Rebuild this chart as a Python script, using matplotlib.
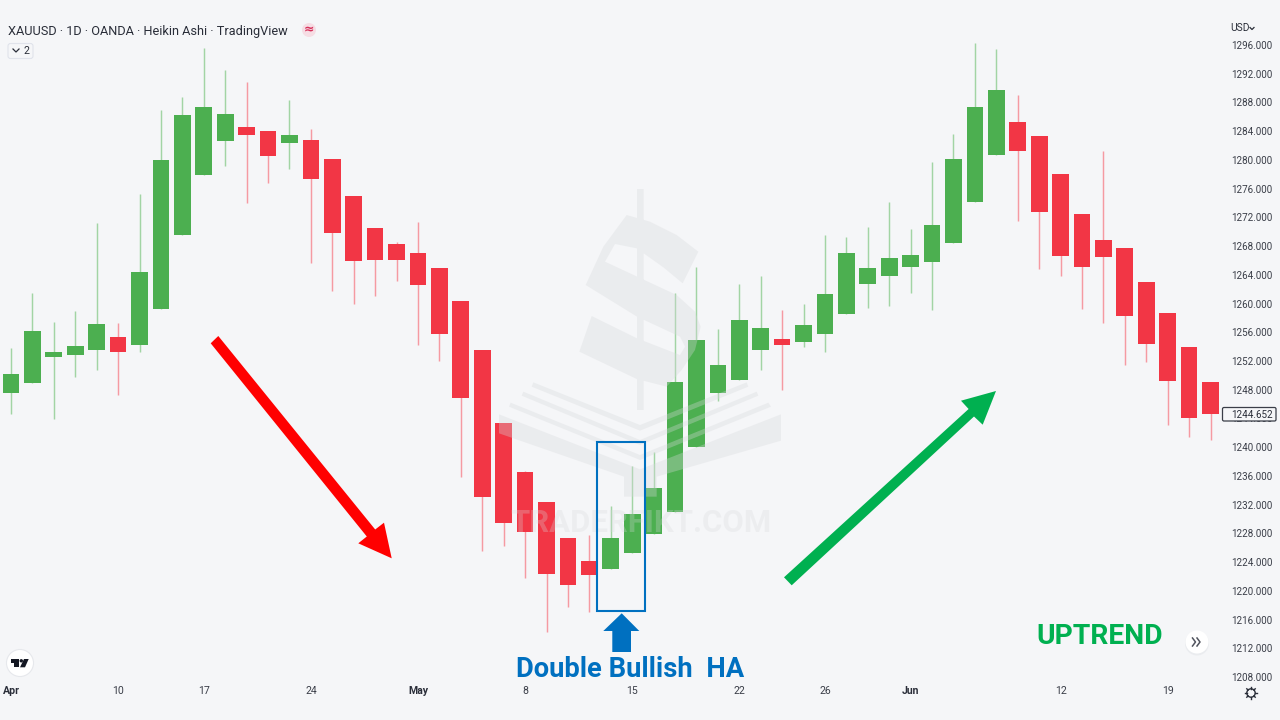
import matplotlib
matplotlib.use("Agg")
import matplotlib.pyplot as plt
from matplotlib.patches import Polygon, Rectangle, Circle, FancyBboxPatch, PathPatch
from matplotlib.path import Path

# ---- data -------------------------------------------------------------
opens = [1247.6,1248.9,1252.5,1252.9,1253.5,1255.3,1254.2,1259.3,1269.6,1277.9,1282.6,1284.6,1284.0,1282.3,1282.8,1280.1,1275.0,1270.5,1268.3,1267.1,
         1264.9,1260.4,1253.6,1243.3,1236.5,1232.3,1227.4,1224.2,1223.0,1225.2,1227.9,1231.0,1240.0,1247.5,1249.4,1253.5,1255.1,1254.6,1255.8,1258.5,
         1262.7,1263.8,1265.1,1265.8,1268.4,1274.2,1280.7,1285.3,1283.3,1278.1,1272.4,1268.9,1267.7,1263.0,1258.7,1254.0,1249.1]
highs = [1253.8,1261.4,1257.4,1259.0,1271.2,1257.3,1275.2,1286.9,1288.7,1295.6,1292.5,1290.9,1284.0,1288.4,1284.3,1280.1,1275.0,1270.5,1268.6,1271.3,
         1264.9,1260.4,1253.6,1243.3,1236.7,1232.3,1227.4,1227.8,1231.8,1237.4,1239.3,1261.5,1265.1,1256.5,1262.7,1263.9,1259.1,1259.9,1269.5,1269.3,
         1270.7,1274.2,1270.4,1279.7,1283.6,1296.3,1295.5,1289.1,1283.3,1278.1,1272.4,1281.3,1267.7,1263.0,1258.7,1254.0,1249.1]
lows  = [1244.6,1248.9,1243.9,1249.8,1250.7,1247.2,1253.2,1259.3,1269.6,1277.9,1279.1,1274.0,1276.8,1278.7,1265.7,1261.8,1259.9,1261.0,1263.2,1254.2,
         1252.0,1235.9,1225.6,1226.2,1221.8,1214.3,1217.7,1217.0,1223.0,1225.2,1227.9,1231.0,1240.0,1246.4,1249.4,1250.8,1248.0,1253.9,1253.3,1258.5,
         1259.4,1259.7,1261.5,1259.1,1268.4,1274.2,1280.7,1271.5,1264.8,1263.8,1259.2,1257.3,1251.5,1251.9,1243.1,1241.4,1241.0]
closes= [1250.2,1256.2,1253.3,1254.1,1257.1,1253.3,1264.4,1280.0,1286.2,1287.4,1286.4,1283.5,1280.6,1283.4,1277.4,1269.8,1265.9,1266.0,1266.1,1262.6,
         1255.8,1246.8,1233.1,1229.5,1228.2,1222.4,1220.8,1222.2,1227.3,1230.7,1234.3,1249.1,1254.9,1251.5,1257.7,1256.6,1254.2,1257.0,1261.3,1267.1,
         1264.9,1266.4,1266.7,1271.0,1280.1,1287.4,1289.8,1281.3,1272.8,1266.6,1265.1,1266.5,1258.3,1254.3,1249.2,1244.1,1244.6]
date_ticks  = [0, 5, 9, 14, 19, 24, 29, 34, 38, 42, 49, 54]
date_labels = ["Apr", "10", "17", "24", "May", "8", "15", "22", "26", "Jun", "12", "19"]
price_ticks = list(range(1208, 1297, 4))
last_price = 1244.652

# ---- style ------------------------------------------------------------
BG = "#F5F6F8"
UP, DOWN = "#4CAF50", "#F23645"
UP_W, DOWN_W = "#A2D4A4", "#F59AA2"
BLUE, GREEN_A = "#0070C0", "#00B050"
WM = "#D6D8DB"
WM_A = 0.33
FONT = "Roboto"
plt.rcParams["font.family"] = [FONT, "DejaVu Sans"]

fig = plt.figure(figsize=(12.8, 7.2), dpi=100, facecolor=BG)
ax = fig.add_axes([0, 40/720, 1222/1280, 680/720], facecolor="none")
ax.set_xlim((0-11)/21.42, (1222-11)/21.42)
ax.set_ylim(1296-(680-45)/7.182, 1296+45/7.182)

xs = range(len(opens))
w_cols = [UP_W if c >= o else DOWN_W for o, c in zip(opens, closes)]
b_cols = [UP if c >= o else DOWN for o, c in zip(opens, closes)]
ax.vlines(xs, lows, highs, colors=w_cols, linewidth=1.05, zorder=2)
ax.bar(xs, [abs(c-o) for o, c in zip(opens, closes)],
       bottom=[min(o, c) for o, c in zip(opens, closes)],
       width=0.78, color=b_cols, linewidth=0, zorder=3)

for s in ax.spines.values():
    s.set_visible(False)
ax.yaxis.tick_right()
ax.set_yticks(price_ticks, [f"{p:.3f}" for p in price_ticks])
ax.tick_params(axis="y", length=0, pad=6.9, labelsize=7.1, labelcolor="#3a3e48")
ax.set_xticks(date_ticks, date_labels)
ax.tick_params(axis="x", length=0, pad=4.5, labelsize=7.6, labelcolor="#3a3e48")
for lab in ax.get_xticklabels():
    if lab.get_text() in ("Apr", "May", "Jun"):
        lab.set_fontweight("bold")
        lab.set_color("#2a2e39")

# ---- overlay in pixel coordinates ---------------------------------------
ov = fig.add_axes([0, 0, 1, 1], facecolor="none", zorder=5)
ov.set_xlim(0, 1280)
ov.set_ylim(720, 0)
ov.axis("off")

def Z(pts):
    return [(490 + x/3, 180 + y/3) for x, y in pts]

# watermark
s_shape = [(410,105),(480,125),(560,165),(625,215),(578,310),(520,262),(440,205),(375,192),(345,245),
           (560,345),(615,395),(632,440),(615,510),(575,570),(530,620),(440,597),(268,515),(305,408),
           (441,475),(570,525),(585,500),(570,470),(441,410),(287,315),(340,200)]
bar_shape = [(441,27),(461,27),(461,690),(441,690)]
verts, codes = [], []
for poly in (s_shape, bar_shape):
    p = Z(poly)
    verts += p + [p[0]]
    codes += [Path.MOVETO] + [Path.LINETO]*(len(p)-1) + [Path.CLOSEPOLY]
ov.add_patch(PathPatch(Path(verts, codes), fc=WM, ec="none", alpha=WM_A, zorder=1))
book = [
    [(130,607),(450,735),(770,607),(775,620),(450,752),(125,620)],
    [(100,635),(450,780),(800,635),(805,647),(450,795),(95,647)],
    [(62,668),(450,825),(835,668),(843,680),(450,840),(57,680)],
    [(27,703),(450,868),(873,703),(873,782),(500,890),(500,950),(402,950),(402,890),(27,760)],
]
for b in book:
    ov.add_patch(Polygon(Z(b), closed=True, fc=WM, ec="none", alpha=WM_A, zorder=1))
ov.text(641, 523.5, "TRADERFIKT.COM", ha="center", va="center", fontsize=22.4, fontweight="bold",
        color=WM, alpha=0.28, zorder=1)

# red arrow
ov.add_patch(Polygon([(210.7,343.3),(218.3,336),(375.2,529.5),(384,522.7),(391.7,558.3),(358.3,543.3),(366.8,536.5)],
                     closed=True, fc="#FF0000", ec="none", zorder=2))
# green arrow
ov.add_patch(Polygon([(784,577.3),(791.7,585.3),(974,416.5),(982.7,424.7),(996,391),(961,400.7),(968.6,409)],
                     closed=True, fc=GREEN_A, ec="none", zorder=2))
# blue box and arrow
ov.add_patch(Rectangle((597,442), 48, 169, fc="none", ec=BLUE, lw=1.5, zorder=3))
ov.add_patch(Polygon([(621.7,613.3),(639.3,631),(631,631),(631,652),(612.3,652),(612.3,631),(603.3,631)],
                     closed=True, fc=BLUE, ec="none", zorder=3))
ov.text(630, 669.5, "Double Bullish  HA", ha="center", va="center", fontsize=19.7, fontweight="bold", color=BLUE, zorder=3)
ov.text(1099.5, 636, "UPTREND", ha="center", va="center", fontsize=20.3, fontweight="bold", color=GREEN_A, zorder=3)

# header
ov.text(8, 31, "XAUUSD · 1D · OANDA · Heikin Ashi · TradingView", ha="left", va="center", fontsize=9.2, color="#2a2e39")
ov.add_patch(Circle((309,30), 7, fc="#F6DDE4", ec="none"))
ov.text(309, 30, "≈", ha="center", va="center", fontsize=9, color="#D6305A", fontweight="bold", family="DejaVu Sans")
ov.add_patch(FancyBboxPatch((8,43.5), 25, 15, boxstyle="round,pad=0,rounding_size=2.5", fc=BG, ec="#E0E3EB", lw=0.8))
ov.plot([13,16,19], [49,52,49], color="#2a2e39", lw=0.9)
ov.text(26.5, 51, "2", ha="center", va="center", fontsize=7.6, color="#2a2e39")
ov.text(1230, 28, "USD", ha="left", va="center", fontsize=7.4, color="#2a2e39")
ov.plot([1250,1252,1254], [27.5,29.5,27.5], color="#2a2e39", lw=0.9)

# last price label
ov.add_patch(FancyBboxPatch((1222.5,407.5), 53.5, 13.5, boxstyle="round,pad=0,rounding_size=1.5", fc=BG, ec="#3a3e48", lw=0.9, zorder=4))
ov.text(1231.5, 414.5, f"{last_price:.3f}", ha="left", va="center", fontsize=7.1, color="#2a2e39", zorder=5)

# TradingView badge
ov.add_patch(Circle((20,663), 13.5, fc="white", ec="#E6E8EC", lw=0.8))
ov.add_patch(Polygon([(10.7,659),(19,659),(19,667.3),(14,667.3),(14,662.5),(10.7,662.5)], closed=True, fc="#131722", ec="none"))
ov.add_patch(Circle((21.3,660.8), 1.7, fc="#131722", ec="none"))
ov.add_patch(Polygon([(24,659),(28.7,659),(25,667.3),(20,667.3)], closed=True, fc="#131722", ec="none"))

# scroll button
ov.add_patch(Circle((1197,643.5), 12, fc="#E4E6EA", ec="none", alpha=0.6))
ov.add_patch(Circle((1197,642), 11.5, fc="white", ec="none"))
ov.plot([1192.5,1195.5,1192.5], [638,642,646], color="#50535E", lw=1.1)
ov.plot([1197,1200,1197], [638,642,646], color="#50535E", lw=1.1)

# settings gear
ov.add_patch(Circle((1251,693), 4.2, fc="none", ec="#2a2e39", lw=1.0))
for dx, dy in [(0,-1),(0,1),(1,0),(-1,0),(.7,.7),(-.7,.7),(.7,-.7),(-.7,-.7)]:
    ov.plot([1251+4.2*dx,1251+6*dx], [693+4.2*dy,693+6*dy], color="#2a2e39", lw=1.0)

fig.savefig("out.png", dpi=100, facecolor=BG)
